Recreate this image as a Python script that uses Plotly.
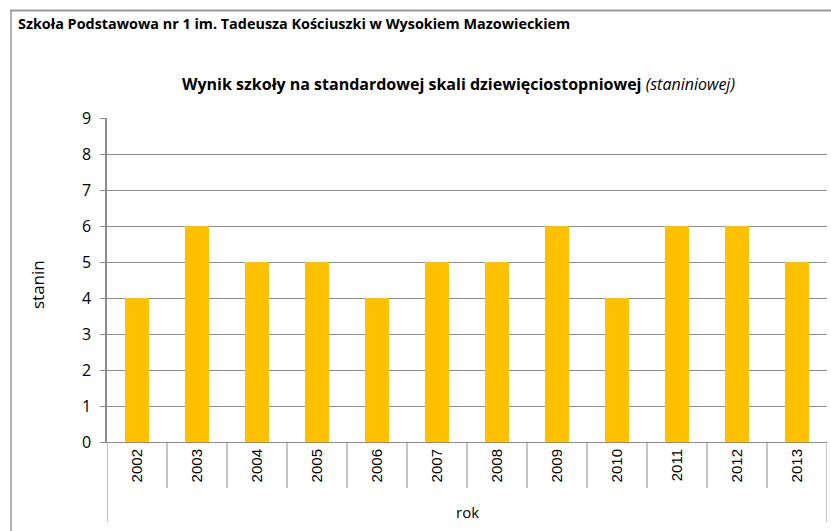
import plotly.graph_objects as go

years = ["2002", "2003", "2004", "2005", "2006", "2007", "2008", "2009", "2010", "2011", "2012", "2013"]
stanin = [4, 6, 5, 5, 4, 5, 5, 6, 4, 6, 6, 5]
y_ticks = [0, 1, 2, 3, 4, 5, 6, 7, 8, 9]

W, H = 831, 531
L, R, T, B = 107, 4, 118, 89
PW = W - L - R
PH = H - T - B

def px_x(px):
    return (px - L) / PW

def px_y(py):
    return (H - B - py) / PH

GRID = "#8c8c8c"
BAR = "#FFC000"
FONT = "'Open Sans', Lato, sans-serif"

fig = go.Figure()
fig.add_trace(go.Bar(x=years, y=stanin, marker=dict(color=BAR, line=dict(width=0)), width=0.4))

shapes = []
n = len(years)
for i in range(1, n):
    shapes.append(dict(type="line", xref="x", yref="paper", x0=i - 0.5, x1=i - 0.5,
                       y0=0, y1=px_y(488), line=dict(color=GRID, width=1)))
for xe in (-0.5, n - 0.5):
    shapes.append(dict(type="line", xref="x", yref="paper", x0=xe, x1=xe,
                       y0=0, y1=px_y(522), line=dict(color=GRID, width=1)))
# outer chart border (top and left edges)
shapes.append(dict(type="line", xref="paper", yref="paper", x0=px_x(10), x1=px_x(831),
                   y0=px_y(10.5), y1=px_y(10.5), line=dict(color="#999999", width=2)))
shapes.append(dict(type="line", xref="paper", yref="paper", x0=px_x(11), x1=px_x(11),
                   y0=px_y(10), y1=px_y(531), line=dict(color="#999999", width=1.5)))

annotations = [
    dict(text="<b>Szkoła Podstawowa nr 1 im. Tadeusza Kościuszki w Wysokiem Mazowieckiem</b>",
         xref="paper", yref="paper", x=px_x(16), y=px_y(23), xanchor="left", yanchor="middle",
         showarrow=False, font=dict(family=FONT, size=14.4, color="black")),
    dict(text="<b>Wynik szkoły na standardowej skali dziewięciostopniowej </b><i>(staniniowej)</i>",
         xref="paper", yref="paper", x=px_x(458), y=px_y(84), xanchor="center", yanchor="middle",
         showarrow=False, font=dict(family=FONT, size=16, color="black")),
    dict(text="stanin", xref="paper", yref="paper", x=px_x(37), y=px_y(285), textangle=-90,
         xanchor="center", yanchor="middle", showarrow=False,
         font=dict(family=FONT, size=17, color="black")),
    dict(text="rok", xref="paper", yref="paper", x=px_x(467), y=px_y(512),
         xanchor="center", yanchor="middle", showarrow=False,
         font=dict(family=FONT, size=15, color="black")),
]

fig.update_layout(
    width=W, height=H,
    margin=dict(l=L, r=R, t=T, b=B),
    paper_bgcolor="white", plot_bgcolor="white",
    showlegend=False,
    shapes=shapes,
    annotations=annotations,
    xaxis=dict(type="category", range=[-0.5, n - 0.5], showgrid=False, ticks="",
               showline=True, linecolor=GRID, linewidth=1, tickangle=-90,
               tickfont=dict(family="Liberation Sans, Arial, sans-serif", size=15, color="black"),
               fixedrange=True),
    yaxis=dict(range=[0, 9], tickvals=y_ticks, showgrid=True, gridcolor=GRID, gridwidth=1,
               showline=True, linecolor=GRID, linewidth=1.5, ticks="outside", ticklen=5,
               tickcolor=GRID, zeroline=False, ticklabelstandoff=6,
               tickfont=dict(family=FONT, size=16, color="black"),
               fixedrange=True),
)

fig.write_html("out.html", config={"displayModeBar": False},
               post_script="document.body.style.margin='0';")
